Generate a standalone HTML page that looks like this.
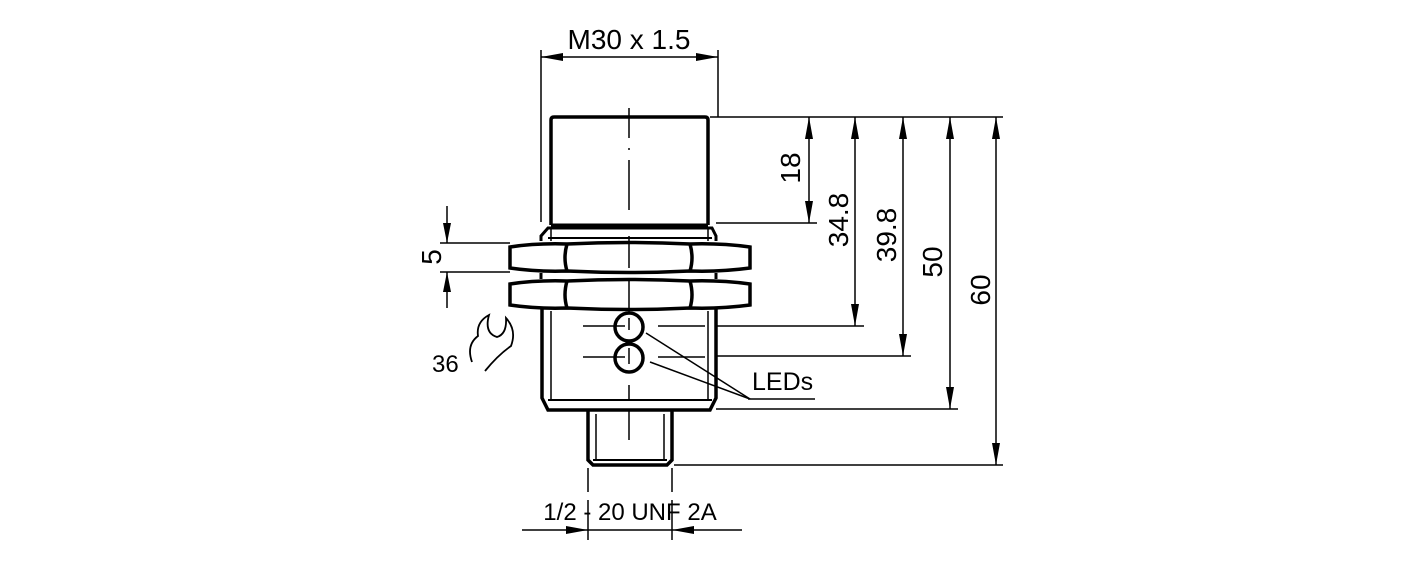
<!DOCTYPE html>
<html><head><style>
html,body{margin:0;padding:0;background:#fff;}
svg{display:block;}
text{font-family:"Liberation Sans",Arial,sans-serif;fill:#000;}
</style></head><body>
<svg width="1417" height="567" viewBox="0 0 1417 567" xmlns="http://www.w3.org/2000/svg">
<g stroke="#000" fill="none">
<line x1="541" y1="50" x2="541" y2="222" stroke-width="1.5"/>
<line x1="718" y1="50" x2="718" y2="117" stroke-width="1.5"/>
<line x1="541" y1="57" x2="718" y2="57" stroke-width="1.5"/>
<path d="M541,57l22,-4v8z M718,57l-22,-4v8z" fill="#000" stroke="none"/>
<path d="M551,225V120q0,-3 3,-3H705q3,0 3,3V225" stroke-width="3.5"/>
<line x1="551" y1="225" x2="708" y2="225" stroke-width="3"/>
<line x1="548" y1="238" x2="712" y2="238" stroke-width="2"/>
<path d="M541,241V236l7,-8H712l4,8v5" stroke-width="3"/>
<line x1="551" y1="228" x2="551" y2="241" stroke-width="1.5"/>
<line x1="708" y1="228" x2="708" y2="241" stroke-width="1.5"/>
<g stroke-width="3.5">
<path d="M510,247Q537,243 567,244Q629,241 690,244Q720,243 750,247V268Q720,272 690,271Q629,274 567,271Q537,272 510,268Z"/>
<path d="M567,244Q563,258 567,271 M690,244Q694,258 690,271"/>
<path d="M510,284Q537,280 567,281Q629,278 690,281Q720,280 750,284V305Q720,309 690,308Q629,311 567,308Q537,309 510,305Z"/>
<path d="M567,281Q563,295 567,308 M690,281Q694,295 690,308"/>
</g>
<line x1="541" y1="273" x2="541" y2="279" stroke-width="3"/>
<line x1="716" y1="273" x2="716" y2="279" stroke-width="3"/>
<path d="M542,309V398l6,12H710l6,-12V309" stroke-width="3.5"/>
<line x1="551" y1="311" x2="551" y2="400" stroke-width="1.5"/>
<line x1="708" y1="311" x2="708" y2="400" stroke-width="1.5"/>
<line x1="548" y1="400" x2="712" y2="400" stroke-width="2"/>
<path d="M588,411V460l5,5H667l5,-5V411" stroke-width="3.5"/>
<line x1="596" y1="414" x2="596" y2="460" stroke-width="1.5"/>
<line x1="664" y1="414" x2="664" y2="460" stroke-width="1.5"/>
<line x1="593" y1="460" x2="667" y2="460" stroke-width="2"/>
<circle cx="629" cy="327" r="14" stroke-width="3.5"/>
<circle cx="629" cy="358" r="14" stroke-width="3.5"/>
<g stroke-width="1.5">
<line x1="583" y1="326" x2="625" y2="326"/><line x1="658" y1="326" x2="705" y2="326"/>
<line x1="583" y1="357" x2="625" y2="357"/><line x1="658" y1="357" x2="705" y2="357"/>
<line x1="646" y1="333" x2="750" y2="399"/>
<line x1="650" y1="362" x2="750" y2="399"/>
<line x1="748" y1="399" x2="815" y2="399"/>
<path d="M629,108V138M629,148V150M629,160V210M629,236V268M629,278V300M629,318V330M629,348V364M629,385V400M629,410V440"/>
</g>
<line x1="629" y1="300" x2="629" y2="312" stroke-width="1.5"/>
<g stroke-width="1.5">
<line x1="710" y1="117" x2="1003" y2="117"/>
<line x1="716" y1="223" x2="817" y2="223"/>
<line x1="716" y1="326" x2="864" y2="326"/>
<line x1="716" y1="356" x2="911" y2="356"/>
<line x1="716" y1="409" x2="958" y2="409"/>
<line x1="674" y1="465" x2="1003" y2="465"/>
<line x1="809" y1="117" x2="809" y2="223"/>
<line x1="855" y1="117" x2="855" y2="326"/>
<line x1="903" y1="117" x2="903" y2="356"/>
<line x1="950" y1="117" x2="950" y2="409"/>
<line x1="996" y1="117" x2="996" y2="465"/>
</g>
<g fill="#000" stroke="none">
<path d="M809,117l-4,22h8z M809,223l-4,-22h8z"/>
<path d="M855,117l-4,22h8z M855,326l-4,-22h8z"/>
<path d="M903,117l-4,22h8z M903,356l-4,-22h8z"/>
<path d="M950,117l-4,22h8z M950,409l-4,-22h8z"/>
<path d="M996,117l-4,22h8z M996,465l-4,-22h8z"/>
</g>
<g stroke-width="1.5">
<line x1="440" y1="243" x2="510" y2="243"/>
<line x1="440" y1="272" x2="510" y2="272"/>
<line x1="447" y1="206" x2="447" y2="243"/>
<line x1="447" y1="272" x2="447" y2="308"/>
</g>
<path d="M447,243l-4,-20h8z M447,272l-4,20h8z" fill="#000" stroke="none"/>
<path d="M472,362Q466,345 478,336Q476,322 489,315Q484,333 497,337Q507,334 506,318Q517,330 511,346Q498,355 485,371" stroke-width="1.8"/>
<g stroke-width="1.5">
<path d="M588,468V492M588,500V540M672,468V492M672,500V540"/>
<line x1="522" y1="530" x2="742" y2="530"/>
</g>
<path d="M588,530l-22,-4v8z M672,530l22,-4v8z" fill="#000" stroke="none"/>
</g>
<text x="629" y="49" text-anchor="middle" font-size="28">M30 x 1.5</text>
<text x="630" y="520" text-anchor="middle" font-size="24">1/2 - 20 UNF 2A</text>
<text x="752" y="390" font-size="25">LEDs</text>
<text x="432" y="372" font-size="24">36</text>
<g font-size="28">
<text transform="translate(441,257) rotate(-90)" text-anchor="middle">5</text>
<text transform="translate(800,168) rotate(-90)" text-anchor="middle">18</text>
<text transform="translate(848,220) rotate(-90)" text-anchor="middle">34.8</text>
<text transform="translate(896,235) rotate(-90)" text-anchor="middle">39.8</text>
<text transform="translate(942,262) rotate(-90)" text-anchor="middle">50</text>
<text transform="translate(990,290) rotate(-90)" text-anchor="middle">60</text>
</g>
</svg>
</body></html>
